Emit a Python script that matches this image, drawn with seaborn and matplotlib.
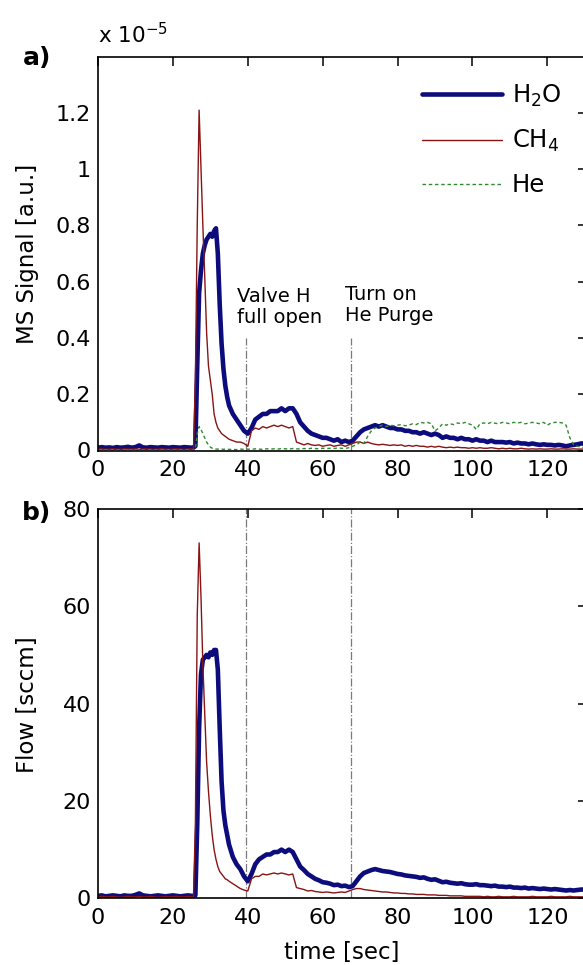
import numpy as np
import pandas as pd
import matplotlib
matplotlib.use("Agg")
import matplotlib.pyplot as plt
import seaborn as sns

# ---------------- data ----------------
# sampling grid (s): 1 s steps, 0.5 s steps around the injection peak
time = np.concatenate([np.arange(0, 26, 1.0), np.arange(25.5, 35.01, 0.5), np.arange(36, 131, 1.0)])

# MS signal (x 1e-5 a.u.)
h2o_ms = [0.010, 0.012, 0.010, 0.011, 0.009, 0.012, 0.010, 0.011, 0.013, 0.010, 0.012, 0.018, 0.011,
          0.010, 0.012, 0.011, 0.010, 0.012, 0.011, 0.010, 0.012, 0.011, 0.010, 0.012, 0.011, 0.010,
          0.011, 0.015, 0.30, 0.56, 0.64, 0.70, 0.73, 0.75, 0.76, 0.77, 0.76, 0.78, 0.79, 0.70, 0.52,
          0.38, 0.29, 0.23, 0.19, 0.16,
          0.13, 0.11, 0.09, 0.07, 0.06, 0.08, 0.11, 0.12, 0.13, 0.13, 0.14, 0.14, 0.14, 0.15, 0.14,
          0.15, 0.15, 0.13, 0.10, 0.085, 0.07, 0.06, 0.055, 0.05, 0.045, 0.045, 0.04, 0.035, 0.04,
          0.03, 0.035, 0.03, 0.035, 0.05, 0.065, 0.075, 0.08, 0.085, 0.09, 0.085, 0.09, 0.085, 0.08,
          0.08, 0.075, 0.075, 0.07, 0.07, 0.065, 0.065, 0.06, 0.065, 0.06, 0.055, 0.06, 0.055, 0.045,
          0.05, 0.045, 0.045, 0.04, 0.045, 0.04, 0.04, 0.035, 0.04, 0.035, 0.035, 0.03, 0.035, 0.03,
          0.03, 0.03, 0.028, 0.03, 0.025, 0.028, 0.025, 0.025, 0.022, 0.025, 0.022, 0.02, 0.022, 0.02,
          0.02, 0.018, 0.02, 0.018, 0.015, 0.018, 0.02, 0.022, 0.025, 0.025]
ch4_ms = [0.005, 0.006, 0.004, 0.005, 0.006, 0.005, 0.004, 0.006, 0.005, 0.005, 0.006, 0.004, 0.005,
          0.006, 0.005, 0.004, 0.005, 0.006, 0.005, 0.004, 0.005, 0.006, 0.005, 0.004, 0.005, 0.006,
          0.005, 0.25, 0.80, 1.21, 1.00, 0.80, 0.62, 0.42, 0.30, 0.25, 0.20, 0.13, 0.10, 0.08, 0.07,
          0.06, 0.055, 0.05, 0.045, 0.04,
          0.035, 0.03, 0.03, 0.025, 0.015, 0.07, 0.08, 0.075, 0.085, 0.08, 0.085, 0.09, 0.085, 0.09,
          0.085, 0.08, 0.085, 0.03, 0.025, 0.02, 0.025, 0.02, 0.018, 0.02, 0.015, 0.018, 0.02, 0.015,
          0.018, 0.02, 0.015, 0.02, 0.025, 0.03, 0.03, 0.025, 0.03, 0.025, 0.022, 0.02, 0.022, 0.02,
          0.018, 0.02, 0.018, 0.02, 0.015, 0.018, 0.015, 0.018, 0.015, 0.015, 0.012, 0.015, 0.012,
          0.015, 0.012, 0.01, 0.012, 0.01, 0.012, 0.01, 0.01, 0.008, 0.01, 0.008, 0.01, 0.008, 0.008,
          0.01, 0.008, 0.006, 0.008, 0.006, 0.008, 0.006, 0.006, 0.008, 0.006, 0.005, 0.006, 0.005,
          0.006, 0.005, 0.005, 0.006, 0.005, 0.005, 0.006, 0.005, 0.005, 0.006, 0.005, 0.005, 0.005]
he_ms = [0.003, 0.002, 0.003, 0.002, 0.003, 0.003, 0.002, 0.003, 0.002, 0.003, 0.003, 0.002, 0.003,
         0.002, 0.003, 0.003, 0.002, 0.003, 0.002, 0.003, 0.003, 0.002, 0.003, 0.002, 0.003, 0.002,
         0.002, 0.003, 0.06, 0.085, 0.075, 0.06, 0.045, 0.03, 0.02, 0.012, 0.008, 0.006, 0.005, 0.005,
         0.004, 0.005, 0.004, 0.005, 0.004, 0.004,
         0.004, 0.003, 0.005, 0.004, 0.005, 0.004, 0.006, 0.005, 0.004, 0.006, 0.005, 0.006, 0.005,
         0.007, 0.006, 0.005, 0.007, 0.006, 0.005, 0.007, 0.006, 0.008, 0.007, 0.006, 0.008, 0.007,
         0.008, 0.007, 0.009, 0.008, 0.007, 0.01, 0.015, 0.02, 0.03, 0.025, 0.05, 0.07, 0.08, 0.085,
         0.09, 0.085, 0.09, 0.088, 0.09, 0.092, 0.088, 0.09, 0.095, 0.092, 0.1, 0.098, 0.1, 0.095,
         0.07, 0.08, 0.095, 0.09, 0.095, 0.092, 0.098, 0.095, 0.1, 0.095, 0.09, 0.075, 0.095, 0.098,
         0.095, 0.1, 0.097, 0.095, 0.1, 0.098, 0.095, 0.1, 0.098, 0.1, 0.095, 0.097, 0.1, 0.098,
         0.095, 0.1, 0.09, 0.098, 0.1, 0.1, 0.098, 0.09, 0.045, 0.02, 0.015, 0.012, 0.01]

# Flow (sccm)
h2o_flow = [0.5, 0.6, 0.4, 0.5, 0.6, 0.5, 0.4, 0.6, 0.5, 0.5, 0.7, 1.0, 0.6, 0.5, 0.4, 0.5, 0.6,
            0.5, 0.4, 0.5, 0.6, 0.5, 0.4, 0.5, 0.6, 0.5,
            0.5, 0.6, 15.0, 35.0, 46.0, 49.0, 49.5, 50.0, 49.5, 50.5, 50.0, 51.0, 51.0, 47.0, 35.0,
            24.0, 18.0, 15.0, 13.0, 11.0,
            8.5, 7.0, 6.0, 4.5, 3.5, 5.0, 7.0, 8.0, 8.5, 9.0, 9.0, 9.5, 9.5, 10.0, 9.5, 10.0, 9.5,
            8.0, 6.5, 5.8, 5.0, 4.5, 4.0, 3.7, 3.3, 3.2, 3.0, 2.7, 2.8, 2.5, 2.6, 2.3, 2.5, 3.5, 4.5,
            5.2, 5.5, 5.8, 6.0, 5.8, 5.6, 5.5, 5.4, 5.2, 5.0, 4.9, 4.7, 4.6, 4.5, 4.4, 4.2, 4.3, 4.0,
            3.8, 3.9, 3.6, 3.3, 3.4, 3.2, 3.1, 3.0, 3.1, 2.9, 2.8, 2.8, 2.9, 2.7, 2.7, 2.6, 2.5, 2.6,
            2.4, 2.4, 2.3, 2.4, 2.2, 2.2, 2.1, 2.2, 2.0, 2.1, 2.0, 1.9, 2.0, 1.9, 1.8, 1.9, 1.8, 1.7,
            1.6, 1.7, 1.6, 1.7, 1.8, 1.8]
ch4_flow = [0.3, 0.4, 0.3, 0.3, 0.4, 0.3, 0.2, 0.3, 0.4, 0.3, 0.3, 0.4, 0.3, 0.3, 0.4, 0.3, 0.2,
            0.3, 0.4, 0.3, 0.3, 0.4, 0.3, 0.3, 0.4, 0.3,
            0.3, 15.0, 58.0, 73.0, 62.0, 48.0, 38.0, 28.0, 22.0, 17.0, 13.0, 10.0, 8.0, 6.5, 5.5,
            5.0, 4.5, 4.0, 3.8, 3.5,
            3.0, 2.5, 2.0, 1.7, 1.5, 4.0, 4.5, 4.5, 5.0, 4.8, 5.0, 5.2, 5.0, 5.2, 5.0, 4.8, 5.0,
            2.2, 2.0, 1.8, 1.5, 1.6, 1.4, 1.3, 1.2, 1.3, 1.2, 1.1, 1.2, 1.3, 1.2, 1.5, 1.8, 2.0, 2.0,
            1.8, 1.7, 1.6, 1.5, 1.4, 1.3, 1.3, 1.2, 1.1, 1.1, 1.0, 1.0, 0.9, 0.9, 0.8, 0.8, 0.8, 0.7,
            0.7, 0.7, 0.6, 0.6, 0.6, 0.5, 0.5, 0.5, 0.5, 0.4, 0.4, 0.4, 0.4, 0.4, 0.3, 0.4, 0.3, 0.3,
            0.4, 0.3, 0.3, 0.3, 0.4, 0.3, 0.3, 0.3, 0.3, 0.4, 0.3, 0.3, 0.3, 0.3, 0.4, 0.3, 0.3, 0.3,
            0.3, 0.4, 0.3, 0.3, 0.3, 0.3]

event_times = [39.4, 67.5]
ms_yticks = [0, 0.2, 0.4, 0.6, 0.8, 1.0, 1.2]
ms_yticklabels = ["0", "0.2", "0.4", "0.6", "0.8", "1", "1.2"]
flow_yticks = [0, 20, 40, 60, 80]
xticks = [0, 20, 40, 60, 80, 100, 120]

for s in (h2o_ms, ch4_ms, he_ms, h2o_flow, ch4_flow):
    assert len(s) == len(time), (len(s), len(time))

# ---------------- style ----------------
sns.set_theme(style="white")
plt.rcParams["font.family"] = ["DejaVu Sans"]
plt.rcParams["mathtext.fontset"] = "dejavusans"
plt.rcParams["mathtext.default"] = "regular"
plt.rcParams["text.color"] = "black"

C_H2O = "#0c0c7c"
C_CH4 = "#881414"
C_HE = "#2f8a2f"
C_EV = "#7a7a7a"

W, H = 583, 965
fig = plt.figure(figsize=(W / 100, H / 100), dpi=100)
left = 98 / W
width = (586.7 - 98) / W
ax1 = fig.add_axes([left, 1 - 450.5 / H, width, (450.5 - 56.7) / H])
ax2 = fig.add_axes([left, 1 - 898.3 / H, width, (898.3 - 508.8) / H])

top = pd.DataFrame({"t": time, "H2O": h2o_ms, "CH4": ch4_ms, "He": he_ms})
bot = pd.DataFrame({"t": time, "H2O": h2o_flow, "CH4": ch4_flow})

sns.lineplot(data=top, x="t", y="H2O", ax=ax1, color=C_H2O, lw=3.3, label="H$_2$O")
sns.lineplot(data=top, x="t", y="CH4", ax=ax1, color=C_CH4, lw=1.0, label="CH$_4$")
sns.lineplot(data=top, x="t", y="He", ax=ax1, color=C_HE, lw=1.0, label="He",
             linestyle=(0, (2.5, 2)))
sns.lineplot(data=bot, x="t", y="H2O", ax=ax2, color=C_H2O, lw=3.3)
sns.lineplot(data=bot, x="t", y="CH4", ax=ax2, color=C_CH4, lw=1.0)

for te in event_times:
    ax1.plot([te, te], [0, 0.40], color=C_EV, lw=0.9, ls="-.", zorder=1)
    ax2.axvline(te, color=C_EV, lw=0.9, ls="-.", zorder=1)

for ax in (ax1, ax2):
    ax.set_xlim(0, 130.5)
    ax.set_xticks(xticks)
    ax.set_xticklabels([str(x) for x in xticks])
    ax.set_xlabel("")
    ax.set_ylabel("")
    ax.tick_params(direction="in", length=6.5, width=1.1, top=True, right=True,
                   labelsize=16, colors="black")
    ax.tick_params(axis="x", pad=7)
    ax.tick_params(axis="y", pad=5)
    for sp in ax.spines.values():
        sp.set_linewidth(1.2)
        sp.set_color("black")

ax1.set_ylim(0, 1.4)
ax1.set_yticks(ms_yticks)
ax1.set_yticklabels(ms_yticklabels)
ax2.set_ylim(0, 80)
ax2.set_yticks(flow_yticks)
ax2.set_yticklabels([str(v) for v in flow_yticks])

leg = ax1.legend(loc="upper left", bbox_to_anchor=(421.7 / W, 1 - 83 / H),
                 bbox_transform=fig.transFigure, frameon=False, fontsize=17.5,
                 handlelength=3.3, handletextpad=0.4, labelspacing=0.78,
                 borderpad=0, borderaxespad=0)
for txt in leg.get_texts():
    txt.set_color("black")

fig.text(342 / W, 1 - 952 / H, "time [sec]", fontsize=16.5, ha="center", va="center")
fig.text(27.5 / W, 1 - 253.6 / H, "MS Signal [a.u.]", fontsize=16.5, rotation=90,
         ha="center", va="center")
fig.text(27.5 / W, 1 - 705 / H, "Flow [sccm]", fontsize=16.5, rotation=90,
         ha="center", va="center")
fig.text(22.7 / W, 1 - 58 / H, "a)", fontsize=18, fontweight="bold", ha="left", va="center")
fig.text(22 / W, 1 - 513 / H, "b)", fontsize=18, fontweight="bold", ha="left", va="center")
fig.text(98 / W, 1 - 43.3 / H, "x 10$^{-5}$", fontsize=15.5, ha="left", va="baseline")
fig.text(237.3 / W, 1 - 287 / H, "Valve H\nfull open", fontsize=14, ha="left", va="top",
         linespacing=1.15)
fig.text(345 / W, 1 - 285 / H, "Turn on\nHe Purge", fontsize=14, ha="left", va="top",
         linespacing=1.15)

fig.savefig("out.png", dpi=100)
